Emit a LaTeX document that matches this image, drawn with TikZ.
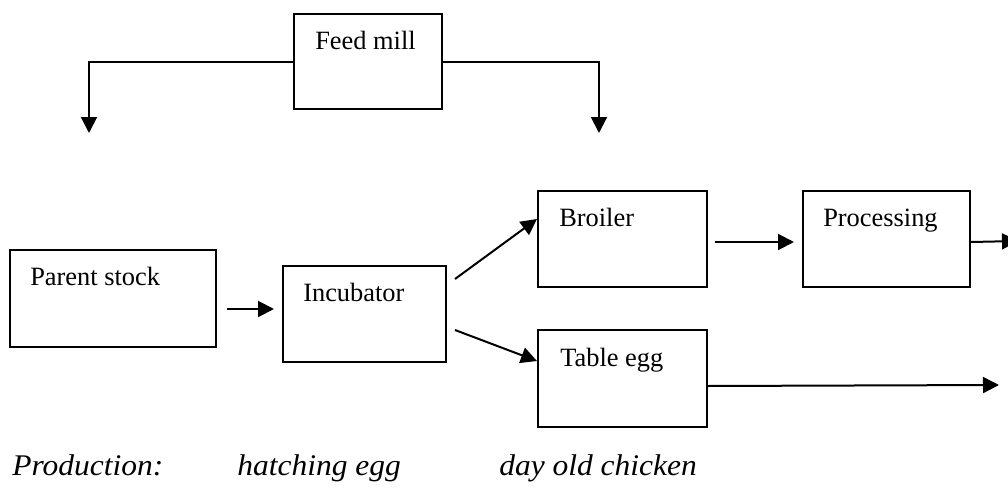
\documentclass[tikz,border=0pt]{standalone}
\usepackage{fontspec}
\setmainfont{Liberation Serif}
\newfontfamily\prodfont[FakeStretch=1.05]{Liberation Serif}
\usetikzlibrary{arrows.meta,calc}
\tikzset{
  box/.style={draw, line width=1.5pt, inner sep=0pt, anchor=north west},
  lbl/.style={anchor=base west, inner sep=0pt, font=\fontsize{19.8pt}{22pt}\selectfont},
  prod/.style={anchor=base west, inner sep=0pt, font=\prodfont\itshape\fontsize{22.5pt}{25pt}\selectfont},
  arr/.style={line width=1.5pt, -{Triangle[length=12pt,width=12pt]}},
  plain/.style={line width=1.5pt}
}
\begin{document}
\begin{tikzpicture}[x=0.75pt,y=-0.75pt]
\clip (0,0) rectangle (1008,489);
\fill[white] (0,0) rectangle (1008,489);
% boxes
\node[box, minimum width=111pt, minimum height=71.25pt] (feed) at (293,13) {};
\node[box, minimum width=154.5pt, minimum height=72.75pt] (parent) at (9,249) {};
\node[box, minimum width=122.25pt, minimum height=72pt] (incub) at (282,265) {};
\node[box, minimum width=126.75pt, minimum height=72pt] (broiler) at (537,190) {};
\node[box, minimum width=125.25pt, minimum height=72pt] (proc) at (802,190) {};
\node[box, minimum width=126.75pt, minimum height=72.75pt] (table) at (537,329) {};
% labels
\node[lbl] (feedT) at (315,49) {Feed mill};
\node[lbl] (parentT) at (30,285) {Parent stock};
\node[lbl] (incubT) at (303,301) {Incubator};
\node[lbl] (broilerT) at (559,226) {Broiler};
\node[lbl] (procT) at (823,226) {Processing};
\node[lbl] (tableT) at (560,366) {Table egg};
\node[prod] (prodA) at (12,475) {Production:};
\node[prod] (prodB) at (237,475) {hatching egg};
\node[prod] (prodC) at (499,475) {day old chicken};
% free ends
\coordinate (fl) at (89,133);
\coordinate (fr) at (599,133);
\coordinate (out1) at (1018,241);
\coordinate (out2) at (999,385);
% connectors
\draw[arr] (feed.west) -| (fl);
\draw[arr] (feed.east) -| (fr);
\draw[arr] ([shift={(10,10.5)}]parent.east) -- ([shift={(-8,-5)}]incub.west);
\draw[arr] ([shift={(8,-35)}]incub.east) -- ([shift={(0,-20)}]broiler.west);
\draw[arr] ([shift={(8,16)}]incub.east) -- ([shift={(0,-17.5)}]table.west);
\draw[arr] ([shift={(7,3)}]broiler.east) -- ([shift={(-8,3)}]proc.west);
\draw[arr] ([shift={(0,3)}]proc.east) -- (out1);
\draw[arr] ([shift={(0,7.5)}]table.east) -- (out2);
\end{tikzpicture}
\end{document}
